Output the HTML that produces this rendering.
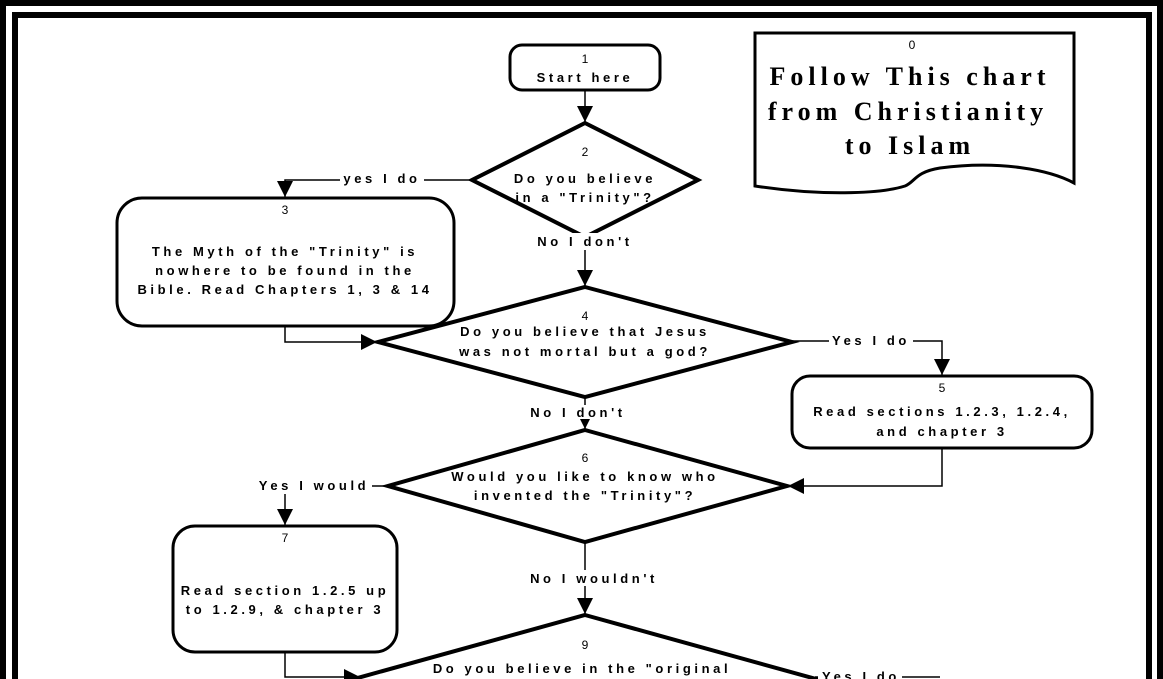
<!DOCTYPE html>
<html><head><meta charset="utf-8"><style>
html,body{margin:0;padding:0;background:#fff;width:1163px;height:679px;overflow:hidden;}
svg{display:block;}
text{font-family:"Liberation Sans",sans-serif;fill:#000;}
.t{font-size:13px;font-weight:bold;letter-spacing:3.6px;text-anchor:middle;}
.n{font-size:12px;text-anchor:middle;}
.h{font-family:"Liberation Serif",serif;font-size:26px;font-weight:bold;letter-spacing:5px;text-anchor:middle;}
</style></head><body>
<svg width="1163" height="679" viewBox="0 0 1163 679" xmlns="http://www.w3.org/2000/svg">
<defs>
<marker id="b" markerWidth="16" markerHeight="16" refX="16" refY="8" orient="auto" markerUnits="userSpaceOnUse"><path d="M0,0 L16,8 L0,16 z"/></marker></defs>
<rect x="3" y="3" width="1157" height="700" fill="none" stroke="#000" stroke-width="6"/>
<rect x="15" y="15" width="1134" height="700" fill="none" stroke="#000" stroke-width="6"/>
<g fill="none" stroke="#000">
<rect x="510" y="45" width="150" height="45" rx="12" stroke-width="3"/>
<polygon points="585,123 698,180 585,237 472,180" stroke-width="4"/>
<polygon points="585,287 792,342 585,397 378,342" stroke-width="4"/>
<polygon points="585,430 787,486 585,542 388,486" stroke-width="4"/>
<polygon points="585,615 845,687 585,759 325,687" stroke-width="4"/>
<rect x="117" y="198" width="337" height="128" rx="25" stroke-width="3"/>
<rect x="792" y="376" width="300" height="72" rx="18" stroke-width="3"/>
<rect x="173" y="526" width="224" height="126" rx="22" stroke-width="3"/>
<path d="M755,33 L1074,33 L1074,183 C1050,170 1000,160 940,168 C915,172 915,182 905,186 C880,194 820,196 755,186 Z" stroke-width="3"/>
<g stroke-width="1.5">
<line x1="585" y1="90" x2="585" y2="122" marker-end="url(#b)"/>
<polyline points="472,180 285,180 285,197" marker-end="url(#b)"/>
<line x1="585" y1="250" x2="585" y2="286" marker-end="url(#b)"/>
<polyline points="285,326 285,342 377,342" marker-end="url(#b)"/>
<polyline points="792,341 942,341 942,375" marker-end="url(#b)"/>
<polyline points="942,448 942,486 788,486" marker-end="url(#b)"/>
<line x1="585" y1="397" x2="585" y2="429" marker-end="url(#b)"/>
<polyline points="388,486 285,486 285,525" marker-end="url(#b)"/>
<line x1="585" y1="542" x2="585" y2="614" marker-end="url(#b)"/>
<polyline points="285,652 285,677 360,677" marker-end="url(#b)"/>
<line x1="815" y1="677" x2="940" y2="677"/>
</g>
</g>
<g fill="#fff">
<rect x="340" y="171" width="84" height="16"/>
<rect x="534" y="233" width="102" height="16"/>
<rect x="829" y="333" width="84" height="16"/>
<rect x="526" y="405" width="104" height="14"/>
<rect x="254" y="478" width="118" height="16"/>
<rect x="525" y="570" width="136" height="16"/>
<rect x="818" y="669" width="84" height="12"/>
</g>
<text class="n" x="585" y="63">1</text>
<text class="t" x="585" y="82">Start here</text>
<text class="n" x="585" y="156">2</text>
<text class="t" x="585" y="183">Do you believe</text>
<text class="t" x="585" y="202">in a "Trinity"?</text>
<text class="t" x="382" y="183">yes I do</text>
<text class="n" x="285" y="214">3</text>
<text class="t" x="285" y="256">The Myth of the "Trinity" is</text>
<text class="t" x="285" y="275">nowhere to be found in the</text>
<text class="t" x="285" y="294">Bible.  Read Chapters 1, 3 &amp; 14</text>
<text class="t" x="585" y="246">No I don't</text>
<text class="n" x="585" y="320">4</text>
<text class="t" x="585" y="336">Do you believe that Jesus</text>
<text class="t" x="585" y="356">was not mortal but a god?</text>
<text class="t" x="871" y="345">Yes I do</text>
<text class="n" x="942" y="392">5</text>
<text class="t" x="942" y="416">Read sections 1.2.3, 1.2.4,</text>
<text class="t" x="942" y="436">and chapter 3</text>
<text class="t" x="578" y="417">No I don't</text>
<text class="n" x="585" y="462">6</text>
<text class="t" x="585" y="481">Would you like to know who</text>
<text class="t" x="585" y="500">invented the "Trinity"?</text>
<text class="t" x="314" y="490">Yes I would</text>
<text class="n" x="285" y="542">7</text>
<text class="t" x="285" y="595">Read section 1.2.5 up</text>
<text class="t" x="285" y="614">to 1.2.9, &amp; chapter 3</text>
<text class="t" x="594" y="583">No I wouldn't</text>
<text class="n" x="585" y="649">9</text>
<text class="t" x="582" y="673">Do you believe in the "original</text>
<text class="t" x="861" y="681">Yes I do</text>
<text class="n" x="912" y="49">0</text>
<text class="h" x="910" y="85">Follow This chart</text>
<text class="h" x="908" y="120">from Christianity</text>
<text class="h" x="910" y="154">to Islam</text>
</svg>
</body></html>
